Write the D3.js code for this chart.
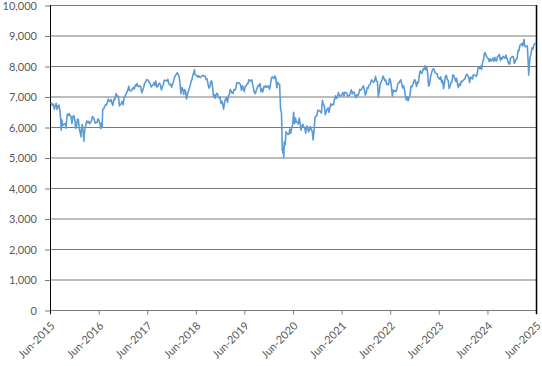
<!DOCTYPE html>
<html><head><meta charset="utf-8">
<script src="https://cdn.jsdelivr.net/npm/d3@7"></script>
<style>body{margin:0;background:#fff}svg{display:block}text{font-family:Lato,"Liberation Sans",sans-serif}</style>
</head><body><svg id="c" width="542" height="366"></svg>
<script>
const dates=["2015-06-05","2015-06-12","2015-06-19","2015-06-26","2015-07-03","2015-07-10","2015-07-17","2015-07-24","2015-07-31","2015-08-07","2015-08-14","2015-08-21","2015-08-24","2015-08-28","2015-09-04","2015-09-11","2015-09-18","2015-09-25","2015-09-28","2015-10-02","2015-10-09","2015-10-16","2015-10-23","2015-10-30","2015-11-06","2015-11-13","2015-11-20","2015-11-27","2015-12-04","2015-12-11","2015-12-18","2015-12-24","2015-12-31",
"2016-01-08","2016-01-15","2016-01-20","2016-01-22","2016-01-29","2016-02-05","2016-02-11","2016-02-12","2016-02-19","2016-02-26","2016-03-04","2016-03-11","2016-03-18","2016-03-24","2016-04-01","2016-04-08","2016-04-15","2016-04-22","2016-04-29","2016-05-06","2016-05-13","2016-05-20","2016-05-27","2016-06-03","2016-06-10","2016-06-16","2016-06-24","2016-06-27","2016-07-01","2016-07-08","2016-07-15","2016-07-22","2016-07-29","2016-08-05","2016-08-12","2016-08-19","2016-08-26","2016-09-02","2016-09-09","2016-09-16","2016-09-23","2016-09-30","2016-10-07","2016-10-11","2016-10-14","2016-10-21","2016-10-28","2016-11-04","2016-11-11","2016-11-18","2016-11-25","2016-12-02","2016-12-09","2016-12-16","2016-12-23","2016-12-30",
"2017-01-06","2017-01-13","2017-01-20","2017-01-27","2017-02-03","2017-02-10","2017-02-17","2017-02-24","2017-03-03","2017-03-10","2017-03-17","2017-03-24","2017-03-31","2017-04-07","2017-04-13","2017-04-21","2017-04-28","2017-05-05","2017-05-12","2017-05-19","2017-05-26","2017-06-02","2017-06-09","2017-06-16","2017-06-23","2017-06-30","2017-07-07","2017-07-14","2017-07-21","2017-07-28","2017-08-04","2017-08-11","2017-08-18","2017-08-25","2017-09-01","2017-09-08","2017-09-15","2017-09-22","2017-09-29","2017-10-06","2017-10-13","2017-10-20","2017-10-27","2017-11-03","2017-11-10","2017-11-17","2017-11-24","2017-12-01","2017-12-08","2017-12-15","2017-12-22","2017-12-29",
"2018-01-05","2018-01-12","2018-01-19","2018-01-26","2018-02-02","2018-02-09","2018-02-16","2018-02-23","2018-03-02","2018-03-09","2018-03-16","2018-03-23","2018-03-29","2018-04-06","2018-04-13","2018-04-20","2018-04-27","2018-05-04","2018-05-11","2018-05-18","2018-05-22","2018-05-25","2018-06-01","2018-06-08","2018-06-15","2018-06-22","2018-06-29","2018-07-06","2018-07-13","2018-07-20","2018-07-27","2018-08-03","2018-08-10","2018-08-17","2018-08-24","2018-08-31","2018-09-07","2018-09-14","2018-09-21","2018-09-28","2018-10-05","2018-10-12","2018-10-19","2018-10-26","2018-11-02","2018-11-09","2018-11-16","2018-11-23","2018-11-30","2018-12-07","2018-12-14","2018-12-21","2018-12-27","2018-12-31",
"2019-01-04","2019-01-11","2019-01-18","2019-01-25","2019-02-01","2019-02-08","2019-02-15","2019-02-22","2019-03-01","2019-03-08","2019-03-15","2019-03-22","2019-03-29","2019-04-05","2019-04-12","2019-04-18","2019-04-26","2019-05-03","2019-05-10","2019-05-17","2019-05-24","2019-05-31","2019-06-07","2019-06-14","2019-06-21","2019-06-28","2019-07-05","2019-07-12","2019-07-19","2019-07-26","2019-08-02","2019-08-09","2019-08-16","2019-08-23","2019-08-30","2019-09-06","2019-09-13","2019-09-20","2019-09-27","2019-10-04","2019-10-11","2019-10-18","2019-10-25","2019-11-01","2019-11-08","2019-11-15","2019-11-22","2019-11-29","2019-12-06","2019-12-13","2019-12-20","2019-12-27",
"2020-01-03","2020-01-10","2020-01-17","2020-01-24","2020-01-31","2020-02-07","2020-02-14","2020-02-21","2020-02-28","2020-03-06","2020-03-12","2020-03-13","2020-03-16","2020-03-20","2020-03-23","2020-03-27","2020-04-03","2020-04-09","2020-04-17","2020-04-24","2020-05-01","2020-05-08","2020-05-15","2020-05-22","2020-05-29","2020-06-05","2020-06-12","2020-06-19","2020-06-26","2020-07-03","2020-07-10","2020-07-17","2020-07-24","2020-07-31","2020-08-07","2020-08-14","2020-08-21","2020-08-28","2020-09-04","2020-09-11","2020-09-18","2020-09-25","2020-10-02","2020-10-09","2020-10-16","2020-10-23","2020-10-30","2020-11-06","2020-11-13","2020-11-20","2020-11-27","2020-12-04","2020-12-11","2020-12-18","2020-12-24","2020-12-31",
"2021-01-08","2021-01-15","2021-01-22","2021-01-29","2021-02-05","2021-02-12","2021-02-19","2021-02-26","2021-03-05","2021-03-12","2021-03-19","2021-03-26","2021-04-01","2021-04-09","2021-04-16","2021-04-23","2021-04-30","2021-05-07","2021-05-14","2021-05-21","2021-05-28","2021-06-04","2021-06-11","2021-06-18","2021-06-25","2021-07-02","2021-07-09","2021-07-16","2021-07-23","2021-07-30","2021-08-06","2021-08-13","2021-08-20","2021-08-27","2021-09-03","2021-09-10","2021-09-17","2021-09-24","2021-10-01","2021-10-08","2021-10-15","2021-10-22","2021-10-29","2021-11-05","2021-11-12","2021-11-19","2021-11-26","2021-12-03","2021-12-10","2021-12-17","2021-12-24","2021-12-31",
"2022-01-07","2022-01-14","2022-01-21","2022-01-28","2022-02-04","2022-02-11","2022-02-18","2022-02-25","2022-03-04","2022-03-11","2022-03-18","2022-03-25","2022-04-01","2022-04-08","2022-04-14","2022-04-22","2022-04-29","2022-05-06","2022-05-13","2022-05-20","2022-05-27","2022-06-03","2022-06-10","2022-06-17","2022-06-24","2022-07-01","2022-07-08","2022-07-15","2022-07-22","2022-07-29","2022-08-05","2022-08-12","2022-08-19","2022-08-26","2022-09-02","2022-09-09","2022-09-16","2022-09-23","2022-09-30","2022-10-07","2022-10-14","2022-10-21","2022-10-28","2022-11-04","2022-11-11","2022-11-18","2022-11-25","2022-12-02","2022-12-09","2022-12-16","2022-12-23","2022-12-30",
"2023-01-06","2023-01-13","2023-01-20","2023-01-27","2023-02-03","2023-02-10","2023-02-17","2023-02-24","2023-03-03","2023-03-10","2023-03-17","2023-03-24","2023-03-31","2023-04-06","2023-04-14","2023-04-21","2023-04-28","2023-05-05","2023-05-12","2023-05-19","2023-05-26","2023-06-02","2023-06-09","2023-06-16","2023-06-23","2023-06-30","2023-07-07","2023-07-14","2023-07-21","2023-07-28","2023-08-04","2023-08-11","2023-08-18","2023-08-25","2023-09-01","2023-09-08","2023-09-15","2023-09-22","2023-09-29","2023-10-06","2023-10-13","2023-10-20","2023-10-27","2023-11-03","2023-11-10","2023-11-17","2023-11-24","2023-12-01","2023-12-08","2023-12-15","2023-12-22","2023-12-29",
"2024-01-05","2024-01-12","2024-01-19","2024-01-26","2024-02-02","2024-02-09","2024-02-16","2024-02-23","2024-03-01","2024-03-08","2024-03-15","2024-03-22","2024-03-28","2024-04-05","2024-04-12","2024-04-19","2024-04-26","2024-05-03","2024-05-10","2024-05-17","2024-05-24","2024-05-31","2024-06-07","2024-06-14","2024-06-21","2024-06-28","2024-07-05","2024-07-12","2024-07-19","2024-07-26","2024-08-02","2024-08-09","2024-08-16","2024-08-23","2024-08-30","2024-09-06","2024-09-13","2024-09-20","2024-09-27","2024-10-04","2024-10-11","2024-10-18","2024-10-25","2024-11-01","2024-11-08","2024-11-15","2024-11-22","2024-11-29","2024-12-06","2024-12-13","2024-12-20","2024-12-27",
"2025-01-03","2025-01-10","2025-01-17","2025-01-24","2025-01-31","2025-02-07","2025-02-14","2025-02-21","2025-02-28","2025-03-03","2025-03-07","2025-03-14","2025-03-21","2025-03-28","2025-04-04","2025-04-07","2025-04-11","2025-04-17","2025-04-25","2025-05-02","2025-05-09","2025-05-16","2025-05-23","2025-05-30"];
const values=[6804,6784,6710,6753,6585,6673,6775,6579,6696,6719,6550,6188,5898,6247,6042,6084,6104,6109,5959,6129,6416,6378,6444,6361,6353,6118,6334,6375,6238,5952,6052,6254,6242,
5912,5804,5673,5900,6083,5848,5537,5707,5950,6097,6199,6140,6189,6106,6146,6204,6343,6310,6242,6125,6138,6156,6270,6209,6116,5950,6138,5982,6578,6590,6669,6730,6724,6793,6916,6859,6838,6895,6777,6710,6910,6899,7044,7097,7013,7020,6996,6693,6730,6775,6840,6730,6954,7011,7068,7143,
7210,7338,7198,7184,7188,7258,7300,7243,7374,7343,7425,7337,7323,7349,7327,7115,7204,7298,7435,7470,7548,7548,7527,7464,7424,7313,7350,7378,7453,7368,7511,7310,7324,7401,7439,7377,7215,7311,7373,7522,7535,7523,7505,7560,7433,7380,7409,7300,7394,7490,7603,7688,
7724,7778,7730,7665,7443,7092,7294,7244,7069,7224,7164,6922,7057,7184,7265,7368,7502,7567,7724,7779,7877,7730,7701,7681,7633,7682,7637,7618,7661,7679,7701,7659,7667,7559,7577,7432,7277,7304,7490,7510,7318,6996,7049,6940,7094,7105,7013,6953,6980,6778,6845,6721,6585,6728,
6837,6918,6968,6809,7020,7071,7237,7178,7107,7104,7228,7208,7279,7447,7437,7459,7428,7380,7203,7348,7277,7161,7331,7345,7407,7426,7553,7506,7508,7549,7407,7254,7117,7095,7207,7282,7367,7345,7426,7155,7247,7151,7324,7302,7359,7303,7326,7347,7240,7353,7582,7645,
7622,7588,7675,7586,7286,7466,7409,7404,6581,6462,5237,5366,5151,5191,4994,5510,5416,5843,5787,5752,5763,5936,5800,5993,6077,6484,6105,6293,6159,6157,6095,6290,6124,5898,6032,6090,6002,5964,5800,6032,6007,5843,5902,6017,5920,5860,5577,5910,6316,6351,6368,6550,6547,6529,6502,6461,
6873,6736,6695,6407,6489,6589,6624,6483,6631,6761,6709,6741,6737,6916,7020,6938,6970,7130,7044,7018,7023,7069,7134,7017,7136,7123,7122,7008,7028,7032,7122,7218,7087,7148,7138,7029,6963,7051,7027,7095,7234,7204,7237,7304,7348,7223,7044,7122,7291,7270,7373,7385,
7485,7543,7494,7466,7516,7661,7514,7489,6987,7156,7405,7483,7538,7669,7616,7521,7545,7388,7418,7390,7585,7533,7318,7016,7209,7169,7196,7159,7276,7423,7440,7501,7550,7427,7281,7351,7237,7019,6894,6991,6858,6970,7047,7335,7318,7385,7487,7556,7476,7332,7473,7452,
7699,7844,7771,7765,7902,7882,8004,7879,7947,7748,7335,7405,7632,7742,7871,7914,7870,7778,7755,7756,7627,7607,7562,7643,7462,7532,7257,7434,7664,7694,7564,7524,7262,7338,7465,7478,7711,7684,7608,7495,7600,7402,7292,7417,7360,7504,7488,7529,7554,7576,7694,7733,
7689,7625,7462,7635,7615,7573,7712,7706,7682,7660,7727,7931,7953,7911,7996,7896,8140,8213,8434,8420,8318,8275,8245,8146,8238,8164,8204,8253,8155,8286,8175,8168,8311,8327,8377,8181,8273,8230,8320,8281,8254,8358,8249,8177,8072,8063,8262,8287,8309,8300,8085,8149,
8224,8248,8505,8502,8674,8700,8732,8659,8810,8871,8680,8632,8647,8658,8055,7702,7964,8276,8415,8597,8554,8684,8718,8772];
const yTicks=[0,1000,2000,3000,4000,5000,6000,7000,8000,9000,10000];
const xTickDates=["2015-06-01","2016-06-01","2017-06-01","2018-06-01","2019-06-01","2020-06-01","2021-06-01","2022-06-01","2023-06-01","2024-06-01","2025-06-01"];
const xTickLabels=["Jun-2015","Jun-2016","Jun-2017","Jun-2018","Jun-2019","Jun-2020","Jun-2021","Jun-2022","Jun-2023","Jun-2024","Jun-2025"];

const parse=d3.timeParse("%Y-%m-%d");
const data=dates.map((d,i)=>({date:parse(d),value:values[i]}));
const L=50,R=536,T=5,B=310;
const svg=d3.select("#c");
const x=d3.scaleTime().domain([parse(xTickDates[0]),parse(xTickDates[xTickDates.length-1])]).range([L,R]);
const y=d3.scaleLinear().domain([0,10000]).range([B,T]);
const grid="#7a7a7a", lab="#595959";

// gridlines
svg.append("g").selectAll("line").data(yTicks.filter(v=>v>0)).join("line")
  .attr("x1",L).attr("x2",R).attr("y1",d=>y(d)+0.5).attr("y2",d=>y(d)+0.5)
  .attr("stroke",grid).attr("stroke-width",1.2);

// y axis
const ya=svg.append("g").attr("transform",`translate(${L},0.5)`)
  .call(d3.axisLeft(y).tickValues(yTicks).tickSize(5).tickPadding(8).tickFormat(d3.format(",")));
ya.select(".domain").remove();
ya.selectAll(".tick line").attr("stroke",grid);
ya.selectAll("text").attr("fill",lab).style("font-size","11px").attr("dy","0.35em");

// x axis
const xa=svg.append("g").attr("transform",`translate(0,${B+0.5})`)
  .call(d3.axisBottom(x).tickValues(xTickDates.map(parse)).tickSize(4).tickFormat((d,i)=>xTickLabels[i]));
xa.select(".domain").attr("stroke",grid).attr("stroke-width",1.2).attr("d",`M${L},0H${R}`);
xa.selectAll(".tick line").attr("stroke",grid);
xa.selectAll("text").attr("fill",lab).style("font-size","11px")
  .attr("x",0).attr("y",0).attr("dy",null)
  .attr("text-anchor","end").attr("transform","translate(5,16) rotate(-45)");

// axis frame lines
svg.append("line").attr("x1",L+0.5).attr("x2",L+0.5).attr("y1",T).attr("y2",B+4).attr("stroke","#000").attr("stroke-width",1);
svg.append("line").attr("x1",R+0.5).attr("x2",R+0.5).attr("y1",T).attr("y2",B+4).attr("stroke","#000").attr("stroke-width",1.5);

// series line
svg.append("path").datum(data)
  .attr("fill","none").attr("stroke","#5B9BD5").attr("stroke-width",1.6).attr("stroke-linejoin","round")
  .attr("d",d3.line().x(d=>x(d.date)).y(d=>y(d.value)));
</script></body></html>
